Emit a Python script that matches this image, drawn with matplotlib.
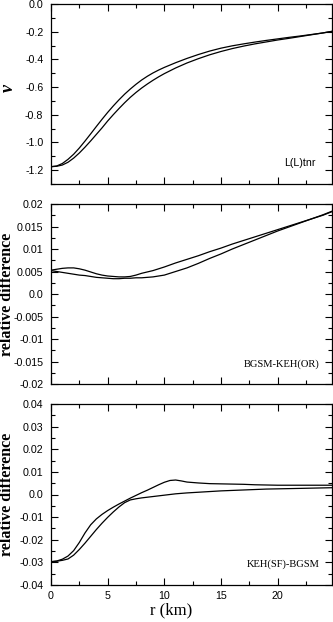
import matplotlib
matplotlib.use("Agg")
import matplotlib.pyplot as plt
from matplotlib.ticker import MultipleLocator, FixedLocator, FixedFormatter

# ---------------- data ----------------
r_nu = [0, 0.5, 1, 1.5, 2, 2.5, 3, 3.5, 4, 4.5, 5, 5.5, 6, 6.5, 7, 7.5, 8, 8.5,
        9, 9.5, 10, 11, 12, 13, 14, 15, 16, 17, 18, 19, 20, 21, 22, 23, 24, 24.8]
nu_a = [-1.175, -1.170, -1.152, -1.122, -1.085, -1.040, -0.990, -0.938, -0.885, -0.833,
        -0.783, -0.736, -0.692, -0.651, -0.614, -0.580, -0.549, -0.522, -0.498, -0.477,
        -0.458, -0.424, -0.393, -0.365, -0.340, -0.319, -0.302, -0.288, -0.275, -0.263,
        -0.252, -0.241, -0.231, -0.220, -0.209, -0.198]
nu_b = [-1.175, -1.172, -1.163, -1.143, -1.113, -1.076, -1.034, -0.989, -0.942, -0.895,
        -0.845, -0.799, -0.755, -0.713, -0.674, -0.639, -0.607, -0.578, -0.551, -0.526,
        -0.503, -0.462, -0.426, -0.395, -0.367, -0.343, -0.322, -0.304, -0.288, -0.274,
        -0.260, -0.248, -0.235, -0.222, -0.209, -0.197]

r_or = [0, 0.5, 1, 1.5, 2, 2.5, 3, 3.5, 4, 4.5, 5, 5.5, 6, 6.5, 7, 7.5, 8, 8.5,
        9, 9.5, 10, 11, 12, 13, 14, 15, 16, 17, 18, 19, 20, 21, 22, 23, 24, 24.8]
or_a = [0.0053, 0.0055, 0.0057, 0.0058, 0.0058, 0.0056, 0.0053, 0.0049, 0.0045, 0.0042,
        0.0040, 0.0039, 0.0038, 0.0038, 0.0039, 0.0042, 0.0046, 0.0049, 0.0052, 0.0056,
        0.0060, 0.0069, 0.0077, 0.0085, 0.0094, 0.0102, 0.0111, 0.0119, 0.0127, 0.0135,
        0.0143, 0.0151, 0.0159, 0.0167, 0.0175, 0.0183]
or_b = [0.0052, 0.0050, 0.0048, 0.0046, 0.0044, 0.0042, 0.0041, 0.0039, 0.0037, 0.0036,
        0.0035, 0.0034, 0.0034, 0.0035, 0.0035, 0.0036, 0.0036, 0.0037, 0.0038, 0.0040,
        0.0042, 0.0050, 0.0058, 0.0068, 0.0079, 0.0089, 0.0100, 0.0110, 0.0120, 0.0130,
        0.0140, 0.0149, 0.0158, 0.0167, 0.0176, 0.0184]

r_sf = [0, 0.5, 1, 1.5, 2, 2.5, 3, 3.5, 4, 4.5, 5, 5.5, 6, 6.5, 7, 7.5, 8, 8.5,
        9, 9.5, 10, 10.5, 11, 11.5, 12, 13, 14, 15, 16, 17, 18, 19, 20, 22, 24.8]
sf_a = [-0.0297, -0.0294, -0.0286, -0.0272, -0.0248, -0.0212, -0.0170, -0.0134, -0.0108,
        -0.0088, -0.0071, -0.0056, -0.0042, -0.0029, -0.0016, -0.0004, 0.0008, 0.0019,
        0.0031, 0.0043, 0.0054, 0.0062, 0.0064, 0.0060, 0.0055, 0.0051, 0.0048, 0.0047,
        0.0046, 0.0045, 0.0043, 0.0042, 0.0041, 0.0041, 0.0041]
sf_b = [-0.0297, -0.0295, -0.0291, -0.0285, -0.0268, -0.0243, -0.0215, -0.0185, -0.0155,
        -0.0127, -0.0101, -0.0077, -0.0055, -0.0036, -0.0024, -0.0019, -0.0015, -0.0012,
        -0.0009, -0.0006, -0.0003, 0.0000, 0.0003, 0.0005, 0.0007, 0.0010, 0.0013, 0.0016,
        0.0018, 0.0020, 0.0022, 0.0024, 0.0025, 0.0027, 0.0030]

x_ticks = [0, 5, 10, 15, 20]
x_ticklabels = ["0", "5", "10", "15", "20"]
y1_ticks = [0.0, -0.2, -0.4, -0.6, -0.8, -1.0, -1.2]
y1_labels = ["0.0", "-0.2", "-0.4", "-0.6", "-0.8", "-1.0", "-1.2"]
y2_ticks = [0.02, 0.015, 0.01, 0.005, 0.0, -0.005, -0.01, -0.015, -0.02]
y2_labels = ["0.02", "0.015", "0.01", "0.005", "0.0", "-0.005", "-0.01", "-0.015", "-0.02"]
y3_ticks = [0.04, 0.03, 0.02, 0.01, 0.0, -0.01, -0.02, -0.03, -0.04]
y3_labels = ["0.04", "0.03", "0.02", "0.01", "0.0", "-0.01", "-0.02", "-0.03", "-0.04"]

# ---------------- figure ----------------
plt.rcParams['font.family'] = ['Liberation Serif', 'DejaVu Serif']
plt.rcParams['axes.unicode_minus'] = False
SANS = ['Liberation Sans', 'DejaVu Sans']

fig = plt.figure(figsize=(3.33, 6.22), dpi=100)
L = 51 / 333
W = 281 / 333
ax1 = fig.add_axes([L, 1 - 184 / 622, W, 180 / 622])
ax2 = fig.add_axes([L, 1 - 384 / 622, W, 180 / 622])
ax3 = fig.add_axes([L, 1 - 585 / 622, W, 181 / 622])

lw = 0.9
ax1.plot(r_nu, nu_a, color='black', lw=lw)
ax1.plot(r_nu, nu_b, color='black', lw=lw)
ax2.plot(r_or, or_a, color='black', lw=lw)
ax2.plot(r_or, or_b, color='black', lw=lw)
ax3.plot(r_sf, sf_a, color='black', lw=lw)
ax3.plot(r_sf, sf_b, color='black', lw=lw)

ax1.set_ylim(-1.3, 0.0)
ax2.set_ylim(-0.02, 0.02)
ax3.set_ylim(-0.04, 0.04)

for ax, yt, yl, ymin in [(ax1, y1_ticks, y1_labels, 0.1),
                          (ax2, y2_ticks, y2_labels, 0.0025),
                          (ax3, y3_ticks, y3_labels, 0.005)]:
    ax.set_xlim(0, 24.8)
    ax.xaxis.set_major_locator(FixedLocator(x_ticks))
    ax.xaxis.set_minor_locator(MultipleLocator(2.5))
    ax.yaxis.set_major_locator(FixedLocator(yt))
    ax.yaxis.set_major_formatter(FixedFormatter(yl))
    ax.yaxis.set_minor_locator(MultipleLocator(ymin))
    ax.tick_params(which='both', direction='in', top=True, right=True,
                   labelsize=7.7, width=0.8)
    ax.tick_params(axis='y', pad=5.5)
    ax.tick_params(axis='x', pad=4.5)
    ax.tick_params(which='major', length=5)
    ax.tick_params(which='minor', length=3)
    for lab in ax.get_xticklabels() + ax.get_yticklabels():
        lab.set_family(SANS)
    for s in ax.spines.values():
        s.set_linewidth(0.9)

ax1.set_xticklabels([])
ax2.set_xticklabels([])
ax3.set_xticklabels(x_ticklabels, family=SANS, fontsize=7.7)

ax1.set_ylabel("ν", fontsize=13, fontweight='bold', fontstyle='italic')
ax2.set_ylabel("relative difference", fontsize=11.5, fontweight='bold')
ax3.set_ylabel("relative difference", fontsize=11.5, fontweight='bold')
ax1.yaxis.set_label_coords(-0.121, 0.533)
ax2.yaxis.set_label_coords(-0.128, 0.5)
ax3.yaxis.set_label_coords(-0.128, 0.5)
ax3.set_xlabel("r (km)", fontsize=12)
ax3.xaxis.set_label_coords(0.427, -0.096)
ax3.xaxis.label.set_va('top')

ax1.text(0.943, 0.117, "L(L)tnr", transform=ax1.transAxes, ha='right', va='center',
         fontsize=7.7, family=SANS)
ax2.text(0.957, 0.11, "BGSM-KEH(OR)", transform=ax2.transAxes, ha='right', va='center',
         fontsize=7.6)
ax3.text(0.957, 0.116, "KEH(SF)-BGSM", transform=ax3.transAxes, ha='right', va='center',
         fontsize=7.6)

fig.savefig("out.png", dpi=100)
